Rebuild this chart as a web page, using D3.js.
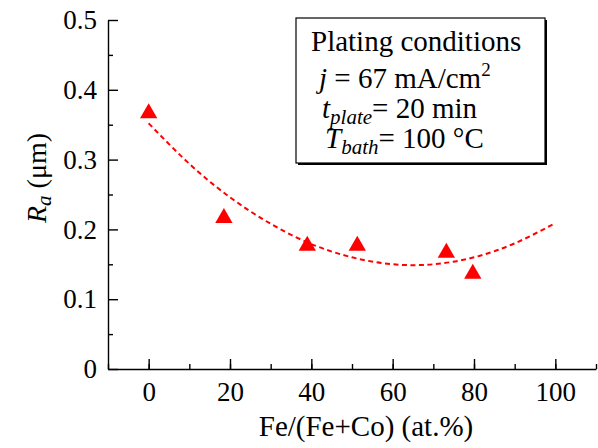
<!DOCTYPE html>
<html>
<head>
<meta charset="utf-8">
<script src="https://cdn.jsdelivr.net/npm/d3@7"></script>
<style>
  body { margin: 0; background: #fff; }
  svg, svg text { font-family: "Liberation Serif", "Times New Roman", Times, "DejaVu Serif", "Noto Serif", serif; }
</style>
</head>
<body>
<figure style="margin:0"></figure>
<script>
  // measured points (Fe at.% vs Ra)
  const feContent = [0, 18.5, 39, 51.3, 73.2, 79.7]
  const roughness = [0.37, 0.22, 0.18, 0.18, 0.17, 0.14]

  // dashed trend line, every 10 at.%
  const fitX = [0, 10, 20, 30, 40, 50, 60, 70, 80, 90, 100]
  const fitY = [0.352, 0.294, 0.246, 0.208, 0.179, 0.160, 0.150, 0.150, 0.160, 0.180, 0.209]

  const xTicks = [0, 20, 40, 60, 80, 100]
  const yTicks = [0, 0.1, 0.2, 0.3, 0.4, 0.5]

  ////////////////////////////////////
  ///////////// SVG Setup ////////////
  ////////////////////////////////////

  const svgWidth = 598
  const svgHeight = 448
  const serif = '"Liberation Serif", "Times New Roman", Times, "DejaVu Serif", "Noto Serif", serif'

  const svg = d3.select('figure')
    .append('svg')
    .attr('width', svgWidth)
    .attr('height', svgHeight)
    .attr('font-family', serif)

  const x = d3.scaleLinear()
    .domain([-10, 110])
    .range([108, 596])

  const y = d3.scaleLinear()
    .domain([0, 0.5])
    .range([369, 20])

  ////////////////////////////////////
  ///////////// Axes /////////////////
  ////////////////////////////////////

  // minor ticks first
  svg.append('g')
    .attr('transform', 'translate(0,' + y(0) + ')')
    .call(d3.axisBottom(x).tickValues(d3.range(-10, 111, 10)).tickSize(-5).tickFormat(''))
    .call(g => g.select('.domain').remove())
  svg.append('g')
    .attr('transform', 'translate(' + x(-10) + ',0)')
    .call(d3.axisLeft(y).tickValues(d3.range(0.05, 0.5, 0.1)).tickSize(-5).tickFormat(''))
    .call(g => g.select('.domain').remove())

  svg.append('g')
    .attr('transform', 'translate(0,' + y(0) + ')')
    .call(d3.axisBottom(x).tickValues(xTicks).tickSizeInner(-10).tickSizeOuter(0).tickPadding(13))

  svg.append('g')
    .attr('transform', 'translate(' + x(-10) + ',0)')
    .call(d3.axisLeft(y).tickValues(yTicks).tickSizeInner(-10).tickSizeOuter(0).tickPadding(11)
      .tickFormat(d => d === 0 ? '0' : d3.format('.1f')(d)))

  // d3 puts font-family="sans-serif" on axis groups, swap it
  svg.selectAll('g').attr('font-family', serif)

  svg.selectAll('.tick line, .domain')
    .attr('stroke', '#000')
    .attr('stroke-width', 1.4)

  svg.selectAll('.tick text')
    .attr('fill', '#000')
    .attr('font-size', 27)

  // axis titles
  svg.append('text')
    .attr('x', 366)
    .attr('y', 436)
    .attr('text-anchor', 'middle')
    .attr('font-size', 29)
    .text('Fe/(Fe+Co) (at.%)')

  const yTitle = svg.append('text')
    .attr('transform', 'translate(46,178) rotate(-90)')
    .attr('text-anchor', 'middle')
    .attr('font-size', 28)
  yTitle.append('tspan').attr('font-style', 'italic').text('R')
  yTitle.append('tspan').attr('font-style', 'italic').attr('font-size', 21).attr('dy', 5).text('a')
  yTitle.append('tspan').attr('dy', -5).text(' (μm)')

  ////////////////////////////////////
  ///////////// Draw /////////////////
  ////////////////////////////////////

  const line = d3.line()
    .x(d => x(d[0]))
    .y(d => y(d[1]))
    .curve(d3.curveNatural)

  svg.append('path')
    .datum(d3.zip(fitX, fitY))
    .attr('d', line)
    .attr('fill', 'none')
    .attr('stroke', '#ff0000')
    .attr('stroke-width', 2)
    .attr('stroke-dasharray', '5,3.5')

  svg.append('g')
    .selectAll('path')
    .data(d3.zip(feContent, roughness))
    .join('path')
    .attr('d', d3.symbol().type(d3.symbolTriangle).size(130))
    .attr('transform', d => 'translate(' + x(d[0]) + ',' + (y(d[1]) + 2.5) + ')')
    .attr('fill', '#ff0000')

  ////////////////////////////////////
  ///////////// Legend box ///////////
  ////////////////////////////////////

  const box = svg.append('g')
  box.append('rect')
    .attr('x', 298).attr('y', 20).attr('width', 249).attr('height', 145)
    .attr('fill', '#000')
  box.append('rect')
    .attr('x', 296).attr('y', 18).attr('width', 249).attr('height', 145)
    .attr('fill', '#fff').attr('stroke', '#000').attr('stroke-width', 1.2)

  box.append('text')
    .attr('x', 311).attr('y', 51)
    .attr('font-size', 29)
    .text('Plating conditions')

  const l2 = box.append('text').attr('x', 319).attr('y', 88).attr('font-size', 29)
  l2.append('tspan').attr('font-style', 'italic').text('j')
  l2.append('tspan').text(' = 67 mA/cm')
  l2.append('tspan').attr('dy', -12).attr('font-size', 19).text('2')

  const l3 = box.append('text').attr('x', 322).attr('y', 118).attr('font-size', 29)
  l3.append('tspan').attr('font-style', 'italic').text('t')
  l3.append('tspan').attr('font-style', 'italic').attr('font-size', 21).attr('dy', 6).text('plate')
  l3.append('tspan').attr('dy', -6).text('= 20 min')

  const l4 = box.append('text').attr('x', 325).attr('y', 148).attr('font-size', 29)
  l4.append('tspan').attr('font-style', 'italic').text('T')
  l4.append('tspan').attr('font-style', 'italic').attr('font-size', 21).attr('dy', 6).text('bath')
  l4.append('tspan').attr('dy', -6).text('= 100 °C')
</script>
</body>
</html>
